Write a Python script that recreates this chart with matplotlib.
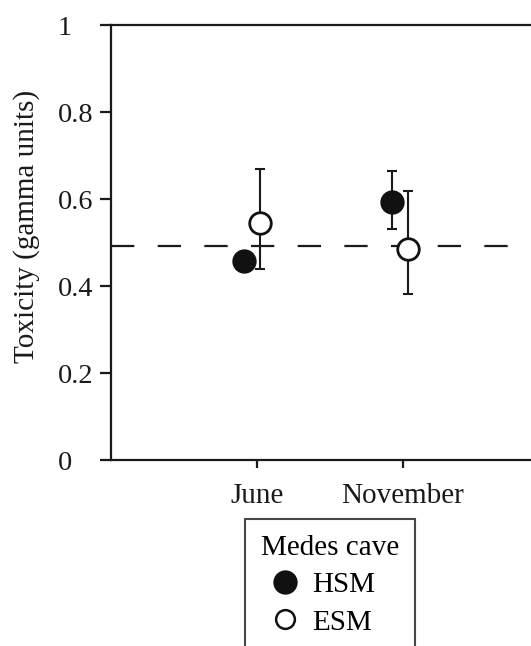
import matplotlib
matplotlib.use("Agg")
import matplotlib.pyplot as plt
from matplotlib.lines import Line2D

# Data
months = ["June", "November"]
month_pos = [1, 2]
hsm_x = [0.915, 1.93]
hsm_vals = [0.458, 0.594]
hsm_err_low = [0.02, 0.062]
hsm_err_high = [0.02, 0.071]
esm_x = [1.025, 2.04]
esm_vals = [0.545, 0.486]
esm_err_low = [0.106, 0.104]
esm_err_high = [0.125, 0.134]
reference_level = 0.492
yticks = [0, 0.2, 0.4, 0.6, 0.8, 1]
ytick_labels = ["0", "0.2", "0.4", "0.6", "0.8", "1"]

plt.rcParams['font.family'] = ['Liberation Serif', 'DejaVu Serif']
FS_Y = 20.3
FS_X = 21

W, H = 531, 646
fig = plt.figure(figsize=(W / 100, H / 100), dpi=100)
left_px, bottom_px, top_px = 111, 460, 25.4
ax = fig.add_axes([left_px / W, 1 - bottom_px / H, 1 - left_px / W + 0.01,
                   (bottom_px - top_px) / H])

ax.axhline(reference_level, color='#1a1a1a', lw=1.6, dashes=(10.5, 10.5), zorder=1)

ax.errorbar(hsm_x, hsm_vals, yerr=[hsm_err_low, hsm_err_high], fmt='none',
            ecolor='#1a1a1a', elinewidth=1.5, capsize=3.3, capthick=1.5, zorder=2)
ax.errorbar(esm_x, esm_vals, yerr=[esm_err_low, esm_err_high], fmt='none',
            ecolor='#1a1a1a', elinewidth=1.5, capsize=3.3, capthick=1.5, zorder=2)
ax.plot(hsm_x, hsm_vals, 'o', ms=16, mfc='#111111', mec='#111111', mew=1.5, ls='none', zorder=3)
ax.plot(esm_x, esm_vals, 'o', ms=15.5, mfc='white', mec='#111111', mew=2.0, ls='none', zorder=3)

ax.set_xlim(0, (W - left_px) / 144.0)
ax.set_ylim(0, 1)
ax.set_xticks(month_pos)
ax.set_xticklabels(months, fontsize=FS_X)
ax.set_yticks(yticks)
ax.set_yticklabels(ytick_labels, fontsize=FS_Y, ha='left')

for s in ['left', 'top', 'bottom']:
    ax.spines[s].set_linewidth(1.6)
    ax.spines[s].set_color('#1a1a1a')
ax.spines['right'].set_visible(False)

ax.tick_params(axis='y', direction='out', length=8, width=1.6, pad=30.6, colors='#1a1a1a')
ax.tick_params(axis='x', direction='out', length=6.1, width=1.6, pad=10.5, colors='#1a1a1a')

ax.set_ylabel("Toxicity (gamma units)", fontsize=21, color='#1a1a1a')
ax.yaxis.set_label_coords(-(left_px - 41) / (W - left_px), (bottom_px - 226) / (bottom_px - top_px))

handles = [
    Line2D([], [], marker='o', ls='none', ms=16, mfc='#111111', mec='#111111', mew=1.5),
    Line2D([], [], marker='o', ls='none', ms=13.5, mfc='white', mec='#111111', mew=1.8),
]
leg = fig.legend(handles, ["HSM", "ESM"], title="Medes cave",
                 loc='upper left', bbox_to_anchor=(245 / W, 1 - 518.5 / H),
                 bbox_transform=fig.transFigure, fontsize=FS_X, title_fontsize=FS_X,
                 frameon=True, fancybox=False, edgecolor='#1a1a1a',
                 borderpad=0.55, labelspacing=0.38, handlelength=1.64,
                 handletextpad=0.1, borderaxespad=0, alignment='left')
leg.get_frame().set_linewidth(1.5)
leg.get_title().set_ha('center')

fig.savefig("out.png", dpi=100)
